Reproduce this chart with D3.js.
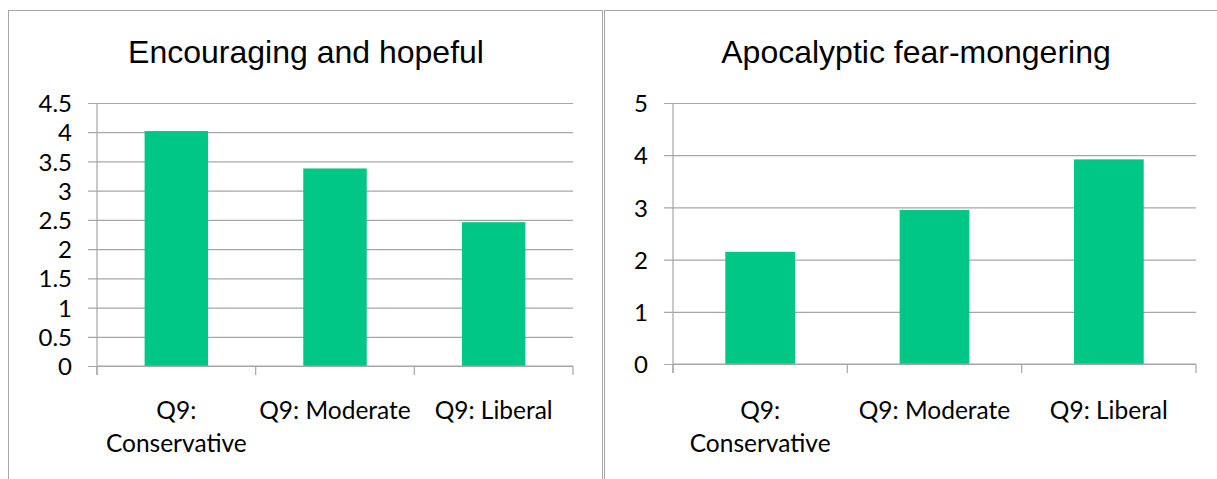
<!DOCTYPE html>
<html>
<head>
<meta charset="utf-8">
<script src="https://cdn.jsdelivr.net/npm/d3@7"></script>
<style>
  html, body { margin: 0; padding: 0; background: #ffffff; }
  svg { display: block; }
</style>
</head>
<body>
<svg id="chart" width="1217" height="479"></svg>
<script>
// Survey categories shared by both panels
const categories = ["Q9: Conservative", "Q9: Moderate", "Q9: Liberal"];

// Panel titles
const titleHopeful = "Encouraging and hopeful";
const titleFear = "Apocalyptic fear-mongering";

// Mean ratings per category
const hopefulValues = [4.02, 3.38, 2.46];
const fearValues = [2.15, 2.95, 3.92];

// Y-axis tick values
const hopefulTicks = [0, 0.5, 1, 1.5, 2, 2.5, 3, 3.5, 4, 4.5];
const fearTicks = [0, 1, 2, 3, 4, 5];

const svg = d3.select("#chart");
const BAR = "#00c785";
const GRID = "#a6a6a6";
const LABEL_FONT = "Lato, 'Open Sans', sans-serif";
const TITLE_FONT = "'Liberation Sans', Arial, sans-serif";

// Panel frames
svg.append("rect").attr("x", 8.5).attr("y", 10.5).attr("width", 594).attr("height", 500)
  .attr("fill", "none").attr("stroke", GRID).attr("stroke-width", 1);
svg.append("rect").attr("x", 604.5).attr("y", 10.5).attr("width", 640).attr("height", 500)
  .attr("fill", "none").attr("stroke", GRID).attr("stroke-width", 1);

// Break a category label onto extra lines when it is wider than its band
function wrapLabel(textSel, width) {
  textSel.each(function () {
    const t = d3.select(this);
    const words = t.text().split(/\s+/);
    const x = t.attr("x");
    t.text(null);
    let line = [];
    let tspan = t.append("tspan").attr("x", x).attr("dy", 0);
    words.forEach(w => {
      line.push(w);
      tspan.text(line.join(" "));
      if (tspan.node().getComputedTextLength() > width && line.length > 1) {
        line.pop();
        tspan.text(line.join(" "));
        line = [w];
        tspan = t.append("tspan").attr("x", x).attr("dy", "1.33em").text(w);
      }
    });
  });
}

function drawPanel(opt) {
  const g = svg.append("g");
  const x = d3.scaleBand().domain(categories).range([opt.x0, opt.x1]).paddingInner(0.6).paddingOuter(0.3);
  const xTicks = d3.scaleBand().domain(categories).range([opt.x0, opt.x1]);
  const y = d3.scaleLinear().domain([0, opt.max]).range([opt.y0, opt.y1]);

  // Title
  g.append("text").attr("x", opt.titleX).attr("y", 63)
    .attr("text-anchor", "middle")
    .style("font-family", TITLE_FONT).style("font-size", "32px").attr("fill", "#000")
    .text(opt.title);

  // Horizontal gridlines + y ticks
  const yAxis = d3.axisLeft(y).tickValues(opt.ticks).tickSize(-(opt.x1 - opt.x0)).tickSizeOuter(0)
    .tickFormat(d => String(d));
  const ya = g.append("g").attr("transform", `translate(${opt.x0},0)`).call(yAxis);
  ya.select(".domain").remove();
  ya.selectAll(".tick line").attr("stroke", GRID).attr("x1", -9).attr("stroke-width", 1.2);
  ya.selectAll(".tick text").style("font-family", LABEL_FONT).style("font-size", "24px")
    .attr("fill", "#000").attr("x", -25).attr("dy", "0.36em");

  // Vertical axis line
  g.append("line").attr("x1", opt.x0).attr("x2", opt.x0).attr("y1", opt.y1).attr("y2", opt.y0 + 9)
    .attr("stroke", GRID).attr("stroke-width", 1.2);

  // Bars
  g.selectAll("rect.bar").data(opt.values).enter().append("rect")
    .attr("class", "bar")
    .attr("x", (d, i) => x(categories[i]))
    .attr("width", x.bandwidth())
    .attr("y", d => y(d))
    .attr("height", d => y(0) - y(d))
    .attr("fill", BAR);

  // Category axis
  const boundaries = categories.map(c => xTicks(c)).concat([opt.x1]);
  g.append("line").attr("x1", opt.x0).attr("x2", opt.x1).attr("y1", opt.y0).attr("y2", opt.y0)
    .attr("stroke", GRID).attr("stroke-width", 1.2);
  g.selectAll("line.xt").data(boundaries).enter().append("line")
    .attr("class", "xt")
    .attr("x1", d => d).attr("x2", d => d).attr("y1", opt.y0).attr("y2", opt.y0 + 9)
    .attr("stroke", GRID).attr("stroke-width", 1.2);

  const labels = g.selectAll("text.xl").data(categories).enter().append("text")
    .attr("class", "xl")
    .attr("x", c => xTicks(c) + xTicks.bandwidth() / 2)
    .attr("y", 419)
    .attr("text-anchor", "middle")
    .style("font-family", LABEL_FONT).style("font-size", "24.5px").attr("fill", "#000")
    .text(c => c);
  wrapLabel(labels, xTicks.bandwidth() - 2);
}

drawPanel({
  title: titleHopeful, titleX: 306, values: hopefulValues, ticks: hopefulTicks, max: 4.5,
  x0: 97, x1: 573, y0: 366, y1: 103
});
drawPanel({
  title: titleFear, titleX: 916, values: fearValues, ticks: fearTicks, max: 5,
  x0: 673, x1: 1196, y0: 364, y1: 103
});
</script>
</body>
</html>
